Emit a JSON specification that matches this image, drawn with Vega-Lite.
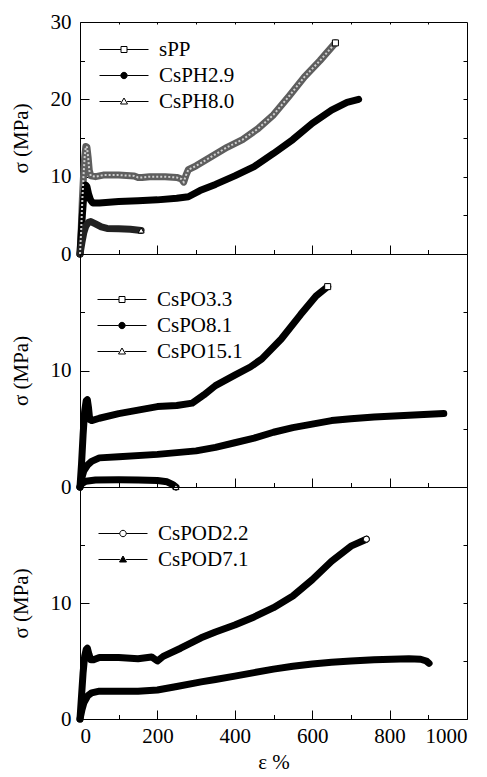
{
  "$schema": "https://vega.github.io/schema/vega-lite/v6.json",
  "padding": {"left": 9, "top": 10, "right": 0, "bottom": 0},
  "bounds": "flush",
  "spacing": 0,
  "config": {
    "font": "Liberation Serif, Times New Roman, serif",
    "view": {"stroke": "black", "strokeWidth": 1},
    "axis": {"domain": false, "grid": false, "tickColor": "black", "tickWidth": 1, "labelFont": "Liberation Serif, Times New Roman, serif", "labelFontSize": 21, "labelColor": "black", "titleFont": "Liberation Serif, Times New Roman, serif", "titleFontSize": 21, "titleFontWeight": "normal", "titleColor": "black", "format": "d"},
    "legend": {"labelFont": "Liberation Serif, Times New Roman, serif", "labelFontSize": 21, "labelColor": "black", "symbolStrokeWidth": 1, "symbolOpacity": 1, "symbolSize": 400, "labelOffset": 39, "rowPadding": 4, "padding": 0, "title": null, "orient": "none"}
  },
  "datasets": {
    "p1": [
      {"s": "sPP", "x": 0, "y": 0}, {"s": "sPP", "x": 3, "y": 3}, {"s": "sPP", "x": 6, "y": 7}, {"s": "sPP", "x": 9, "y": 10}, {"s": "sPP", "x": 12, "y": 12.5}, {"s": "sPP", "x": 15, "y": 13.9}, {"s": "sPP", "x": 18, "y": 13.8}, {"s": "sPP", "x": 21, "y": 12.5}, {"s": "sPP", "x": 24, "y": 10.8}, {"s": "sPP", "x": 28, "y": 10.1}, {"s": "sPP", "x": 40, "y": 10.0}, {"s": "sPP", "x": 60, "y": 10.2}, {"s": "sPP", "x": 100, "y": 10.2}, {"s": "sPP", "x": 140, "y": 10.1}, {"s": "sPP", "x": 150, "y": 9.9}, {"s": "sPP", "x": 160, "y": 9.9}, {"s": "sPP", "x": 180, "y": 10.0}, {"s": "sPP", "x": 220, "y": 10.0}, {"s": "sPP", "x": 250, "y": 9.9}, {"s": "sPP", "x": 262, "y": 9.7}, {"s": "sPP", "x": 268, "y": 9.3}, {"s": "sPP", "x": 274, "y": 10.2}, {"s": "sPP", "x": 280, "y": 10.9}, {"s": "sPP", "x": 300, "y": 11.4}, {"s": "sPP", "x": 340, "y": 12.6}, {"s": "sPP", "x": 380, "y": 13.8}, {"s": "sPP", "x": 420, "y": 14.8}, {"s": "sPP", "x": 460, "y": 16.2}, {"s": "sPP", "x": 500, "y": 18.0}, {"s": "sPP", "x": 540, "y": 20.4}, {"s": "sPP", "x": 580, "y": 22.9}, {"s": "sPP", "x": 620, "y": 25.0}, {"s": "sPP", "x": 660, "y": 27.3},
      {"s": "CsPH2.9", "x": 0, "y": 0}, {"s": "CsPH2.9", "x": 3, "y": 2.5}, {"s": "CsPH2.9", "x": 6, "y": 5}, {"s": "CsPH2.9", "x": 9, "y": 7}, {"s": "CsPH2.9", "x": 12, "y": 8.3}, {"s": "CsPH2.9", "x": 15, "y": 8.9}, {"s": "CsPH2.9", "x": 18, "y": 8.7}, {"s": "CsPH2.9", "x": 22, "y": 7.8}, {"s": "CsPH2.9", "x": 27, "y": 7.0}, {"s": "CsPH2.9", "x": 33, "y": 6.6}, {"s": "CsPH2.9", "x": 50, "y": 6.6}, {"s": "CsPH2.9", "x": 100, "y": 6.8}, {"s": "CsPH2.9", "x": 150, "y": 6.9}, {"s": "CsPH2.9", "x": 200, "y": 7.0}, {"s": "CsPH2.9", "x": 250, "y": 7.2}, {"s": "CsPH2.9", "x": 280, "y": 7.4}, {"s": "CsPH2.9", "x": 310, "y": 8.2}, {"s": "CsPH2.9", "x": 350, "y": 9.0}, {"s": "CsPH2.9", "x": 400, "y": 10.1}, {"s": "CsPH2.9", "x": 450, "y": 11.3}, {"s": "CsPH2.9", "x": 500, "y": 13.0}, {"s": "CsPH2.9", "x": 550, "y": 14.8}, {"s": "CsPH2.9", "x": 600, "y": 16.9}, {"s": "CsPH2.9", "x": 650, "y": 18.6}, {"s": "CsPH2.9", "x": 690, "y": 19.6}, {"s": "CsPH2.9", "x": 720, "y": 20.0},
      {"s": "CsPH8.0", "x": 0, "y": 0}, {"s": "CsPH8.0", "x": 5, "y": 1.5}, {"s": "CsPH8.0", "x": 10, "y": 2.8}, {"s": "CsPH8.0", "x": 15, "y": 3.6}, {"s": "CsPH8.0", "x": 22, "y": 4.1}, {"s": "CsPH8.0", "x": 28, "y": 4.2}, {"s": "CsPH8.0", "x": 40, "y": 3.9}, {"s": "CsPH8.0", "x": 55, "y": 3.5}, {"s": "CsPH8.0", "x": 70, "y": 3.3}, {"s": "CsPH8.0", "x": 100, "y": 3.25}, {"s": "CsPH8.0", "x": 130, "y": 3.2}, {"s": "CsPH8.0", "x": 158, "y": 3.05}
    ],
    "p2": [
      {"s": "CsPO3.3", "x": 0, "y": 0}, {"s": "CsPO3.3", "x": 4, "y": 2}, {"s": "CsPO3.3", "x": 8, "y": 4.5}, {"s": "CsPO3.3", "x": 12, "y": 6.5}, {"s": "CsPO3.3", "x": 16, "y": 7.4}, {"s": "CsPO3.3", "x": 19, "y": 7.5}, {"s": "CsPO3.3", "x": 22, "y": 6.8}, {"s": "CsPO3.3", "x": 25, "y": 5.8}, {"s": "CsPO3.3", "x": 30, "y": 5.7}, {"s": "CsPO3.3", "x": 50, "y": 5.9}, {"s": "CsPO3.3", "x": 100, "y": 6.3}, {"s": "CsPO3.3", "x": 150, "y": 6.6}, {"s": "CsPO3.3", "x": 200, "y": 6.9}, {"s": "CsPO3.3", "x": 250, "y": 7.0}, {"s": "CsPO3.3", "x": 290, "y": 7.2}, {"s": "CsPO3.3", "x": 320, "y": 7.9}, {"s": "CsPO3.3", "x": 350, "y": 8.7}, {"s": "CsPO3.3", "x": 400, "y": 9.6}, {"s": "CsPO3.3", "x": 440, "y": 10.3}, {"s": "CsPO3.3", "x": 470, "y": 11.0}, {"s": "CsPO3.3", "x": 520, "y": 12.7}, {"s": "CsPO3.3", "x": 570, "y": 14.8}, {"s": "CsPO3.3", "x": 610, "y": 16.4}, {"s": "CsPO3.3", "x": 640, "y": 17.2},
      {"s": "CsPO8.1", "x": 0, "y": 0}, {"s": "CsPO8.1", "x": 5, "y": 0.8}, {"s": "CsPO8.1", "x": 10, "y": 1.4}, {"s": "CsPO8.1", "x": 20, "y": 1.9}, {"s": "CsPO8.1", "x": 30, "y": 2.2}, {"s": "CsPO8.1", "x": 50, "y": 2.5}, {"s": "CsPO8.1", "x": 100, "y": 2.6}, {"s": "CsPO8.1", "x": 200, "y": 2.8}, {"s": "CsPO8.1", "x": 300, "y": 3.1}, {"s": "CsPO8.1", "x": 350, "y": 3.4}, {"s": "CsPO8.1", "x": 400, "y": 3.8}, {"s": "CsPO8.1", "x": 450, "y": 4.2}, {"s": "CsPO8.1", "x": 500, "y": 4.7}, {"s": "CsPO8.1", "x": 550, "y": 5.1}, {"s": "CsPO8.1", "x": 600, "y": 5.4}, {"s": "CsPO8.1", "x": 650, "y": 5.7}, {"s": "CsPO8.1", "x": 700, "y": 5.85}, {"s": "CsPO8.1", "x": 760, "y": 6.0}, {"s": "CsPO8.1", "x": 850, "y": 6.15}, {"s": "CsPO8.1", "x": 940, "y": 6.3},
      {"s": "CsPO15.1", "x": 0, "y": 0}, {"s": "CsPO15.1", "x": 5, "y": 0.3}, {"s": "CsPO15.1", "x": 15, "y": 0.5}, {"s": "CsPO15.1", "x": 40, "y": 0.6}, {"s": "CsPO15.1", "x": 100, "y": 0.62}, {"s": "CsPO15.1", "x": 150, "y": 0.6}, {"s": "CsPO15.1", "x": 200, "y": 0.55}, {"s": "CsPO15.1", "x": 225, "y": 0.45}, {"s": "CsPO15.1", "x": 240, "y": 0.2}, {"s": "CsPO15.1", "x": 248, "y": 0.0}
    ],
    "p3": [
      {"s": "CsPOD2.2", "x": 0, "y": 0}, {"s": "CsPOD2.2", "x": 4, "y": 2}, {"s": "CsPOD2.2", "x": 8, "y": 4}, {"s": "CsPOD2.2", "x": 12, "y": 5.4}, {"s": "CsPOD2.2", "x": 16, "y": 6.0}, {"s": "CsPOD2.2", "x": 19, "y": 6.1}, {"s": "CsPOD2.2", "x": 23, "y": 5.6}, {"s": "CsPOD2.2", "x": 28, "y": 5.1}, {"s": "CsPOD2.2", "x": 35, "y": 5.1}, {"s": "CsPOD2.2", "x": 50, "y": 5.3}, {"s": "CsPOD2.2", "x": 100, "y": 5.3}, {"s": "CsPOD2.2", "x": 150, "y": 5.2}, {"s": "CsPOD2.2", "x": 185, "y": 5.35}, {"s": "CsPOD2.2", "x": 200, "y": 5.0}, {"s": "CsPOD2.2", "x": 215, "y": 5.4}, {"s": "CsPOD2.2", "x": 260, "y": 6.1}, {"s": "CsPOD2.2", "x": 313, "y": 7.0}, {"s": "CsPOD2.2", "x": 350, "y": 7.5}, {"s": "CsPOD2.2", "x": 400, "y": 8.1}, {"s": "CsPOD2.2", "x": 450, "y": 8.8}, {"s": "CsPOD2.2", "x": 500, "y": 9.6}, {"s": "CsPOD2.2", "x": 550, "y": 10.6}, {"s": "CsPOD2.2", "x": 600, "y": 12.0}, {"s": "CsPOD2.2", "x": 650, "y": 13.6}, {"s": "CsPOD2.2", "x": 700, "y": 14.9}, {"s": "CsPOD2.2", "x": 740, "y": 15.5},
      {"s": "CsPOD7.1", "x": 0, "y": 0}, {"s": "CsPOD7.1", "x": 5, "y": 0.8}, {"s": "CsPOD7.1", "x": 10, "y": 1.4}, {"s": "CsPOD7.1", "x": 20, "y": 2.0}, {"s": "CsPOD7.1", "x": 30, "y": 2.25}, {"s": "CsPOD7.1", "x": 50, "y": 2.4}, {"s": "CsPOD7.1", "x": 100, "y": 2.4}, {"s": "CsPOD7.1", "x": 150, "y": 2.4}, {"s": "CsPOD7.1", "x": 200, "y": 2.5}, {"s": "CsPOD7.1", "x": 250, "y": 2.8}, {"s": "CsPOD7.1", "x": 313, "y": 3.2}, {"s": "CsPOD7.1", "x": 350, "y": 3.4}, {"s": "CsPOD7.1", "x": 400, "y": 3.7}, {"s": "CsPOD7.1", "x": 450, "y": 4.0}, {"s": "CsPOD7.1", "x": 500, "y": 4.3}, {"s": "CsPOD7.1", "x": 550, "y": 4.55}, {"s": "CsPOD7.1", "x": 600, "y": 4.75}, {"s": "CsPOD7.1", "x": 650, "y": 4.9}, {"s": "CsPOD7.1", "x": 700, "y": 5.0}, {"s": "CsPOD7.1", "x": 760, "y": 5.1}, {"s": "CsPOD7.1", "x": 850, "y": 5.2}, {"s": "CsPOD7.1", "x": 880, "y": 5.15}, {"s": "CsPOD7.1", "x": 895, "y": 5.0}, {"s": "CsPOD7.1", "x": 902, "y": 4.8}
    ]
  },
  "vconcat": [
    {
      "width": 387, "height": 232,
      "data": {"name": "p1"},
      "layer": [
        {
          "mark": {"type": "line", "strokeWidth": 7, "strokeCap": "round", "strokeJoin": "round"},
          "encoding": {
            "x": {"field": "x", "type": "quantitative", "scale": {"domain": [0, 1000], "nice": false}, "axis": {"orient": "bottom", "values": [0, 200, 400, 600, 800, 1000], "tickSize": -9, "labels": false, "title": null}},
            "y": {"field": "y", "type": "quantitative", "scale": {"domain": [0, 30], "nice": false}, "axis": {"orient": "left", "values": [0, 10, 20, 30], "tickSize": -9, "labelPadding": 18, "title": "σ (MPa)", "titlePadding": 19}},
            "detail": {"field": "s"},
            "color": {"field": "s", "type": "nominal", "scale": {"domain": ["sPP", "CsPH2.9", "CsPH8.0"], "range": ["#5e5e5e", "black", "#222222"]}, "legend": null}
          }
        },
        {
          "transform": [{"filter": "datum.s == 'sPP'"}],
          "mark": {"type": "line", "strokeWidth": 2, "strokeDash": [2, 2], "color": "#cfcfcf"},
          "encoding": {
            "x": {"field": "x", "type": "quantitative", "scale": {"domain": [0, 1000], "nice": false}, "axis": null},
            "y": {"field": "y", "type": "quantitative", "scale": {"domain": [0, 30], "nice": false}, "axis": null}
          }
        },
        {
          "mark": {"type": "point", "opacity": 0},
          "encoding": {
            "x": {"field": "x", "type": "quantitative", "scale": {"domain": [0, 1000], "nice": false}, "axis": {"orient": "bottom", "values": [100, 300, 500, 700, 900], "tickSize": -4.5, "labels": false, "title": null}},
            "y": {"field": "y", "type": "quantitative", "scale": {"domain": [0, 30], "nice": false}, "axis": {"orient": "left", "values": [5, 15, 25], "tickSize": -4.5, "labels": false, "title": null}}
          }
        },
        {
          "mark": {"type": "point", "opacity": 0, "strokeWidth": 1},
          "encoding": {
            "x": {"field": "x", "type": "quantitative", "scale": {"domain": [0, 1000], "nice": false}, "axis": {"orient": "top", "values": [100, 200, 300, 400, 500, 600, 700, 800, 900], "tickSize": -2, "labels": false, "title": null}},
            "y": {"field": "y", "type": "quantitative", "scale": {"domain": [0, 30], "nice": false}, "axis": {"orient": "right", "values": [5, 10, 15, 20, 25], "tickSize": -4, "labels": false, "title": null}},
            "shape": {"field": "s", "type": "nominal",
              "scale": {"domain": ["sPP", "CsPH2.9", "CsPH8.0"], "range": ["M-1,0H1.15M1.75,0H3.9M1.15,-0.3H1.75V0.3H1.15Z", "M-1,0H1.13M1.77,0H3.9M1.13,0A0.32,0.32 0 1,0 1.77,0A0.32,0.32 0 1,0 1.13,0Z", "M-1,0H1.14M1.76,0H3.9M1.45,-0.35L1.8,0.25H1.1Z"]},
              "legend": {"legendX": 19, "legendY": 17}
            },
            "fill": {"field": "s", "type": "nominal",
              "scale": {"domain": ["sPP", "CsPH2.9", "CsPH8.0"], "range": ["white", "black", "white"]},
              "legend": {"legendX": 19, "legendY": 17}
            },
            "stroke": {"field": "s", "type": "nominal",
              "scale": {"domain": ["sPP", "CsPH2.9", "CsPH8.0"], "range": ["black", "black", "black"]},
              "legend": {"legendX": 19, "legendY": 17}
            }
          }
        },
        {
          "transform": [
            {"joinaggregate": [{"op": "max", "field": "x", "as": "xmax"}], "groupby": ["s"]},
            {"filter": "datum.x == datum.xmax && datum.s != 'CsPH2.9'"}
          ],
          "mark": {"type": "point", "filled": true, "fill": "white", "stroke": "black", "strokeWidth": 1, "size": 36, "opacity": 1},
          "encoding": {
            "x": {"field": "x", "type": "quantitative", "scale": {"domain": [0, 1000], "nice": false}, "axis": null},
            "y": {"field": "y", "type": "quantitative", "scale": {"domain": [0, 30], "nice": false}, "axis": null},
            "shape": {"field": "s", "type": "nominal", "scale": {"domain": ["sPP", "CsPH8.0"], "range": ["square", "triangle-up"]}, "legend": null}
          }
        }
      ],
      "resolve": {"axis": {"x": "independent", "y": "independent"}, "scale": {"shape": "independent", "fill": "independent", "stroke": "independent"}, "legend": {"shape": "independent", "fill": "independent", "stroke": "independent"}}
    },
    {
      "width": 387, "height": 233,
      "data": {"name": "p2"},
      "layer": [
        {
          "mark": {"type": "line", "strokeWidth": 7, "strokeCap": "round", "strokeJoin": "round", "color": "black"},
          "encoding": {
            "x": {"field": "x", "type": "quantitative", "scale": {"domain": [0, 1000], "nice": false}, "axis": {"orient": "bottom", "values": [0, 200, 400, 600, 800, 1000], "tickSize": -9, "labels": false, "title": null}},
            "y": {"field": "y", "type": "quantitative", "scale": {"domain": [0, 20], "nice": false}, "axis": {"orient": "left", "values": [0, 10], "tickSize": -9, "labelPadding": 18, "title": "σ (MPa)", "titlePadding": 19}},
            "detail": {"field": "s"}
          }
        },
        {
          "mark": {"type": "point", "opacity": 0},
          "encoding": {
            "x": {"field": "x", "type": "quantitative", "scale": {"domain": [0, 1000], "nice": false}, "axis": {"orient": "bottom", "values": [100, 300, 500, 700, 900], "tickSize": -4.5, "labels": false, "title": null}},
            "y": {"field": "y", "type": "quantitative", "scale": {"domain": [0, 20], "nice": false}, "axis": {"orient": "left", "values": [5, 15], "tickSize": -4.5, "labels": false, "title": null}}
          }
        },
        {
          "mark": {"type": "point", "opacity": 0, "strokeWidth": 1},
          "encoding": {
            "x": {"field": "x", "type": "quantitative", "scale": {"domain": [0, 1000], "nice": false}, "axis": null},
            "y": {"field": "y", "type": "quantitative", "scale": {"domain": [0, 20], "nice": false}, "axis": {"orient": "right", "values": [5, 10, 15], "tickSize": -4, "labels": false, "title": null}},
            "shape": {"field": "s", "type": "nominal",
              "scale": {"domain": ["CsPO3.3", "CsPO8.1", "CsPO15.1"], "range": ["M-1,0H1.15M1.75,0H3.9M1.15,-0.3H1.75V0.3H1.15Z", "M-1,0H1.13M1.77,0H3.9M1.13,0A0.32,0.32 0 1,0 1.77,0A0.32,0.32 0 1,0 1.13,0Z", "M-1,0H1.14M1.76,0H3.9M1.45,-0.35L1.8,0.25H1.1Z"]},
              "legend": {"legendX": 17, "legendY": 35}
            },
            "fill": {"field": "s", "type": "nominal",
              "scale": {"domain": ["CsPO3.3", "CsPO8.1", "CsPO15.1"], "range": ["white", "black", "white"]},
              "legend": {"legendX": 17, "legendY": 35}
            },
            "stroke": {"field": "s", "type": "nominal",
              "scale": {"domain": ["CsPO3.3", "CsPO8.1", "CsPO15.1"], "range": ["black", "black", "black"]},
              "legend": {"legendX": 17, "legendY": 35}
            }
          }
        },
        {
          "transform": [
            {"joinaggregate": [{"op": "max", "field": "x", "as": "xmax"}], "groupby": ["s"]},
            {"filter": "datum.x == datum.xmax && datum.s != 'CsPO8.1'"}
          ],
          "mark": {"type": "point", "filled": true, "fill": "white", "stroke": "black", "strokeWidth": 1, "size": 36, "opacity": 1},
          "encoding": {
            "x": {"field": "x", "type": "quantitative", "scale": {"domain": [0, 1000], "nice": false}, "axis": null},
            "y": {"field": "y", "type": "quantitative", "scale": {"domain": [0, 20], "nice": false}, "axis": null},
            "shape": {"field": "s", "type": "nominal", "scale": {"domain": ["CsPO3.3", "CsPO15.1"], "range": ["square", "triangle-up"]}, "legend": null}
          }
        }
      ],
      "resolve": {"axis": {"x": "independent", "y": "independent"}, "scale": {"shape": "independent", "fill": "independent", "stroke": "independent"}, "legend": {"shape": "independent", "fill": "independent", "stroke": "independent"}}
    },
    {
      "width": 387, "height": 232,
      "data": {"name": "p3"},
      "layer": [
        {
          "mark": {"type": "line", "strokeWidth": 7, "strokeCap": "round", "strokeJoin": "round", "color": "black"},
          "encoding": {
            "x": {"field": "x", "type": "quantitative", "scale": {"domain": [0, 1000], "nice": false}, "axis": {"orient": "bottom", "values": [0, 200, 400, 600, 800, 1000], "tickSize": -9, "labelPadding": 15, "title": "ε %", "titlePadding": 5}},
            "y": {"field": "y", "type": "quantitative", "scale": {"domain": [0, 20], "nice": false}, "axis": {"orient": "left", "values": [0, 10], "tickSize": -9, "labelPadding": 18, "title": "σ (MPa)", "titlePadding": 19}},
            "detail": {"field": "s"}
          }
        },
        {
          "mark": {"type": "point", "opacity": 0},
          "encoding": {
            "x": {"field": "x", "type": "quantitative", "scale": {"domain": [0, 1000], "nice": false}, "axis": {"orient": "bottom", "values": [100, 300, 500, 700, 900], "tickSize": -4.5, "labels": false, "title": null}},
            "y": {"field": "y", "type": "quantitative", "scale": {"domain": [0, 20], "nice": false}, "axis": {"orient": "left", "values": [5, 15], "tickSize": -4.5, "labels": false, "title": null}}
          }
        },
        {
          "mark": {"type": "point", "opacity": 0, "strokeWidth": 1},
          "encoding": {
            "x": {"field": "x", "type": "quantitative", "scale": {"domain": [0, 1000], "nice": false}, "axis": null},
            "y": {"field": "y", "type": "quantitative", "scale": {"domain": [0, 20], "nice": false}, "axis": {"orient": "right", "values": [5, 10, 15], "tickSize": -4, "labels": false, "title": null}},
            "shape": {"field": "s", "type": "nominal",
              "scale": {"domain": ["CsPOD2.2", "CsPOD7.1"], "range": ["M-1,0H1.13M1.77,0H3.9M1.13,0A0.32,0.32 0 1,0 1.77,0A0.32,0.32 0 1,0 1.13,0Z", "M-1,0H1.14M1.76,0H3.9M1.45,-0.35L1.8,0.25H1.1Z"]},
              "legend": {"legendX": 18, "legendY": 36}
            },
            "fill": {"field": "s", "type": "nominal",
              "scale": {"domain": ["CsPOD2.2", "CsPOD7.1"], "range": ["white", "black"]},
              "legend": {"legendX": 18, "legendY": 36}
            },
            "stroke": {"field": "s", "type": "nominal",
              "scale": {"domain": ["CsPOD2.2", "CsPOD7.1"], "range": ["black", "black"]},
              "legend": {"legendX": 18, "legendY": 36}
            }
          }
        },
        {
          "transform": [
            {"joinaggregate": [{"op": "max", "field": "x", "as": "xmax"}], "groupby": ["s"]},
            {"filter": "datum.x == datum.xmax && datum.s == 'CsPOD2.2'"}
          ],
          "mark": {"type": "point", "shape": "circle", "filled": true, "fill": "white", "stroke": "black", "strokeWidth": 1, "size": 36, "opacity": 1},
          "encoding": {
            "x": {"field": "x", "type": "quantitative", "scale": {"domain": [0, 1000], "nice": false}, "axis": null},
            "y": {"field": "y", "type": "quantitative", "scale": {"domain": [0, 20], "nice": false}, "axis": null}
          }
        }
      ],
      "resolve": {"axis": {"x": "independent", "y": "independent"}, "scale": {"shape": "independent", "fill": "independent", "stroke": "independent"}, "legend": {"shape": "independent", "fill": "independent", "stroke": "independent"}}
    }
  ],
  "resolve": {"scale": {"shape": "independent", "color": "independent", "fill": "independent", "stroke": "independent"}, "legend": {"shape": "independent", "color": "independent", "fill": "independent", "stroke": "independent"}}
}
